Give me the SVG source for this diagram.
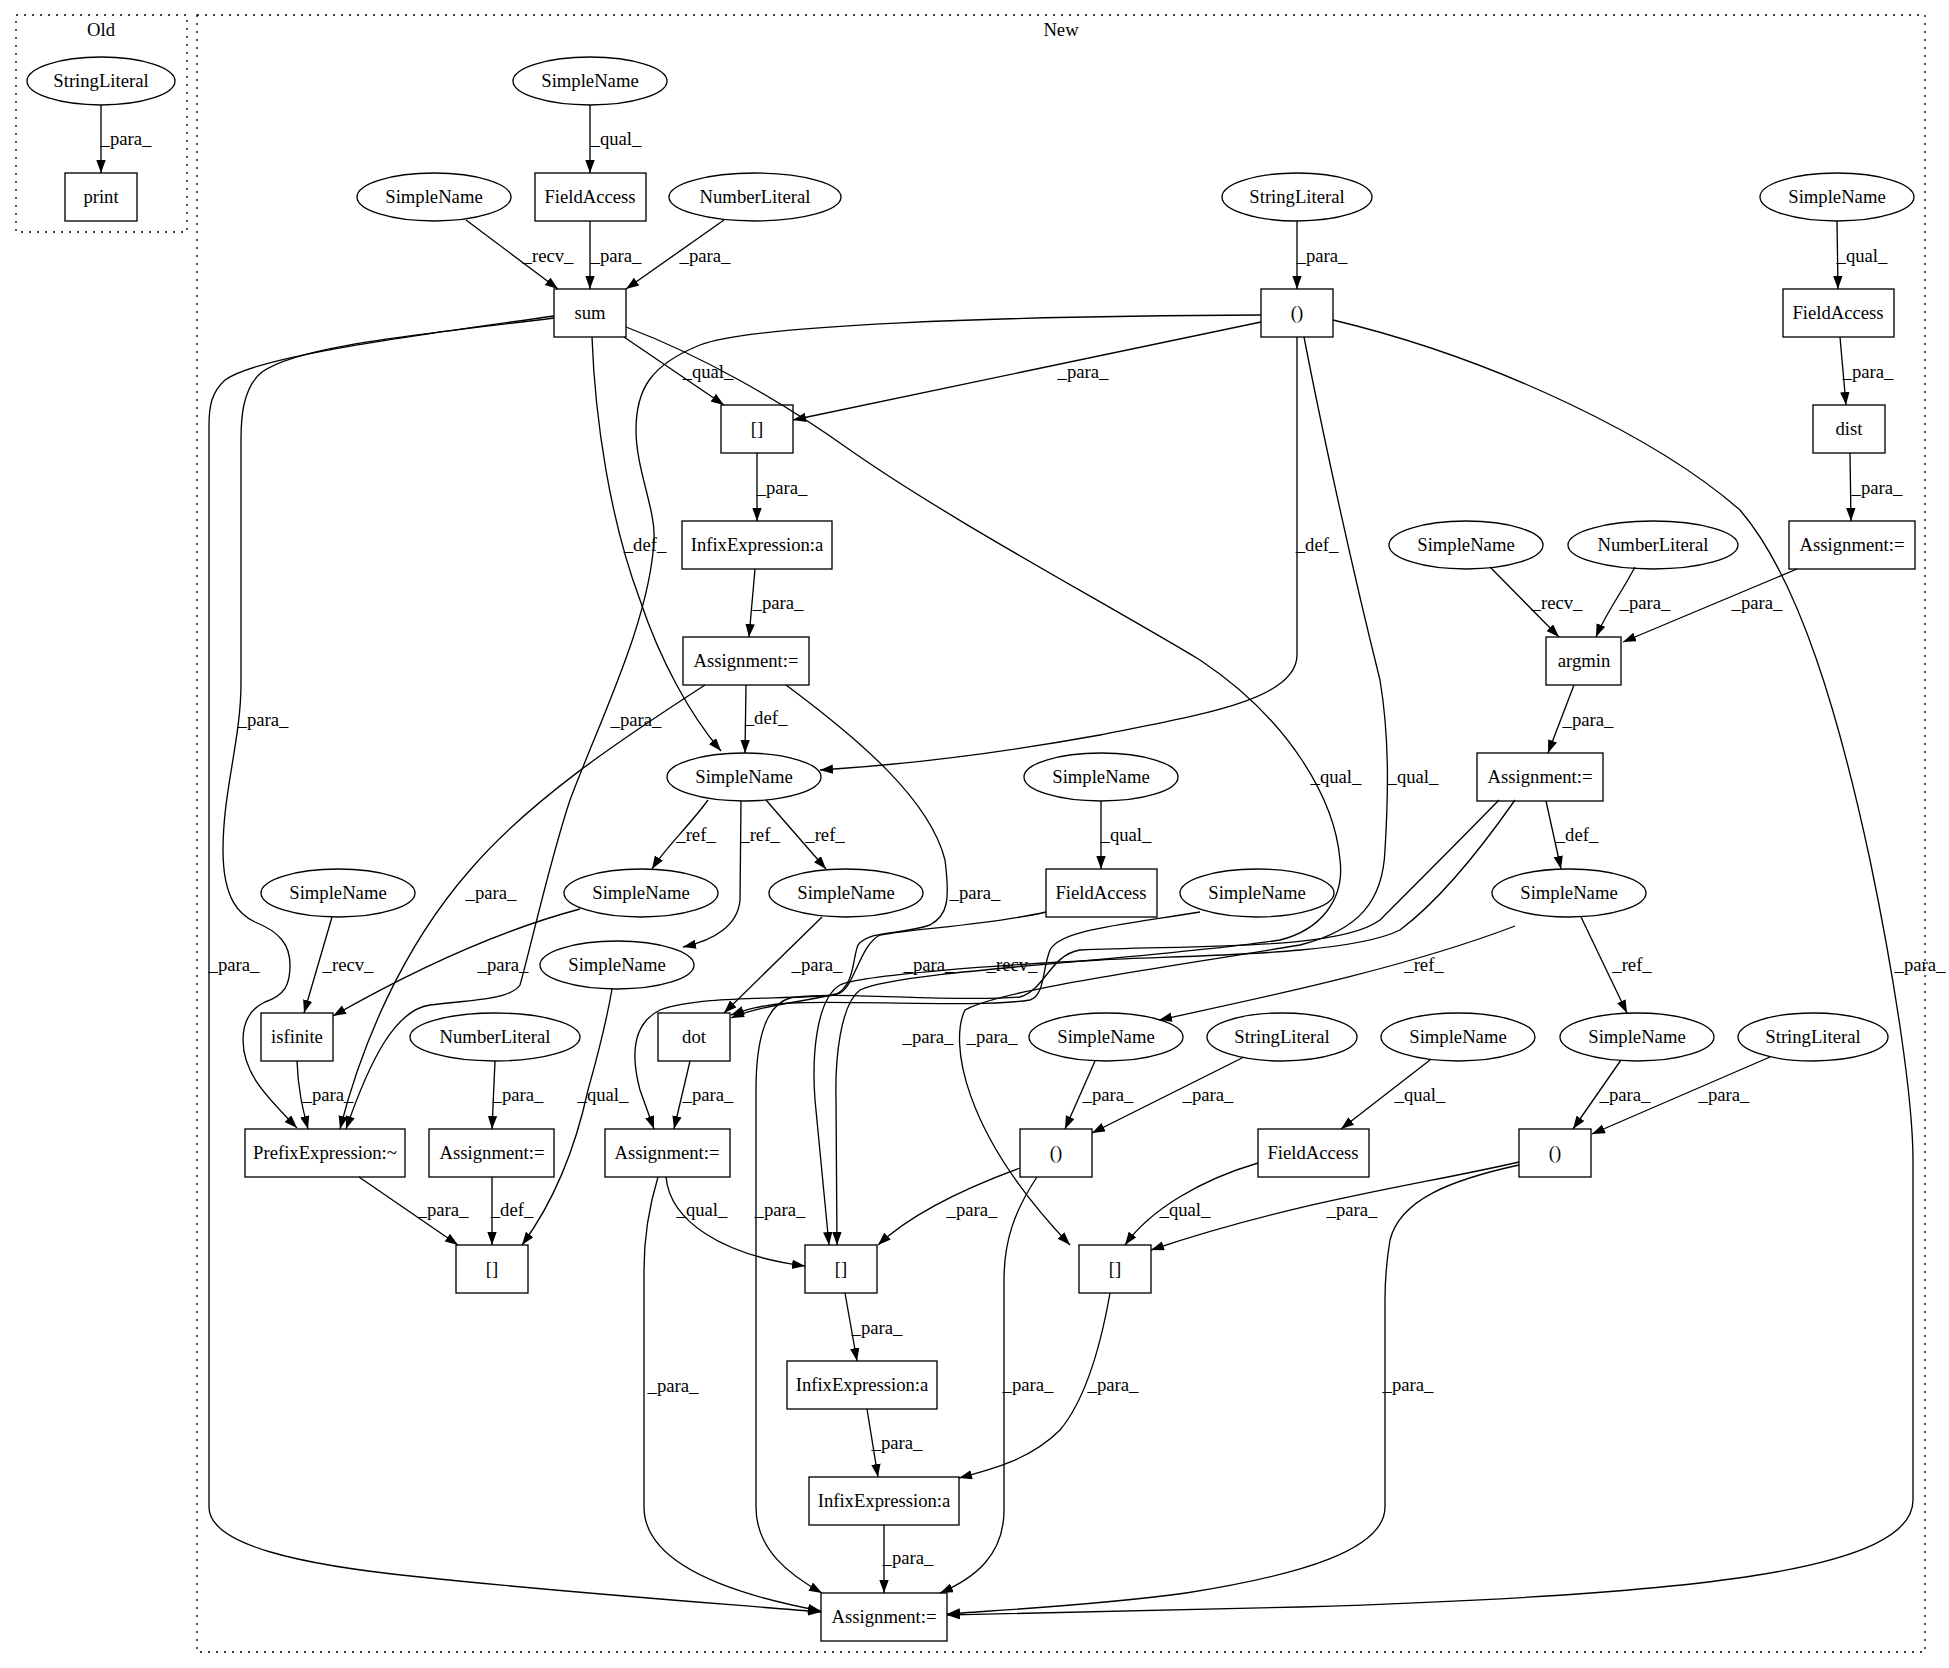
<svg xmlns="http://www.w3.org/2000/svg" width="1949" height="1668" viewBox="0 0 1949 1668">
<style>
text{font-family:"Liberation Serif","Times New Roman",serif;font-size:18.67px;fill:#000;text-anchor:middle}
.n ellipse,.n rect{fill:none;stroke:#000;stroke-width:1.33}
.e path{fill:none;stroke:#000;stroke-width:1.33;marker-end:url(#ah)}
.cl{fill:none;stroke:#000;stroke-width:1.33;stroke-dasharray:2,6}
</style>
<defs><marker id="ah" markerUnits="userSpaceOnUse" markerWidth="14" markerHeight="10" refX="13" refY="4.7" orient="auto"><path d="M0,0 L13,4.7 L0,9.4 Z" fill="#000"/></marker></defs>
<rect width="1949" height="1668" fill="#fff"/>
<g id="cluster_old"><rect class="cl" x="16" y="15" width="171" height="217"/><text x="101" y="36">Old</text></g>
<g id="cluster_new"><rect class="cl" x="197" y="15" width="1728" height="1637"/><text x="1061" y="36">New</text></g>
<g id="nodes" class="n">
<g id="o_str"><ellipse cx="101" cy="81" rx="74" ry="24"/><text x="101" y="87">StringLiteral</text></g>
<g id="o_print"><rect x="65" y="173" width="72" height="48"/><text x="101" y="203">print</text></g>
<g id="sn1"><ellipse cx="590" cy="81" rx="77" ry="24"/><text x="590" y="87">SimpleName</text></g>
<g id="sn2"><ellipse cx="434" cy="197" rx="77" ry="24"/><text x="434" y="203">SimpleName</text></g>
<g id="fa1"><rect x="535" y="173" width="111" height="48"/><text x="590" y="203">FieldAccess</text></g>
<g id="num1"><ellipse cx="755" cy="197" rx="86" ry="24"/><text x="755" y="203">NumberLiteral</text></g>
<g id="str1"><ellipse cx="1297" cy="197" rx="75" ry="24"/><text x="1297" y="203">StringLiteral</text></g>
<g id="sn3"><ellipse cx="1837" cy="197" rx="77" ry="24"/><text x="1837" y="203">SimpleName</text></g>
<g id="sum"><rect x="554" y="289" width="72" height="48"/><text x="590" y="319">sum</text></g>
<g id="call1"><rect x="1261" y="289" width="72" height="48"/><text x="1297" y="319">()</text></g>
<g id="fa2"><rect x="1783" y="289" width="111" height="48"/><text x="1838" y="319">FieldAccess</text></g>
<g id="idx1"><rect x="721" y="405" width="72" height="48"/><text x="757" y="435">[]</text></g>
<g id="dist"><rect x="1813" y="405" width="72" height="48"/><text x="1849" y="435">dist</text></g>
<g id="infix1"><rect x="682" y="521" width="150" height="48"/><text x="757" y="551">InfixExpression:a</text></g>
<g id="sn4"><ellipse cx="1466" cy="545" rx="77" ry="24"/><text x="1466" y="551">SimpleName</text></g>
<g id="num2"><ellipse cx="1653" cy="545" rx="85" ry="24"/><text x="1653" y="551">NumberLiteral</text></g>
<g id="asg1"><rect x="1789" y="521" width="126" height="48"/><text x="1852" y="551">Assignment:=</text></g>
<g id="asg2"><rect x="683" y="637" width="126" height="48"/><text x="746" y="667">Assignment:=</text></g>
<g id="argmin"><rect x="1546" y="637" width="75" height="48"/><text x="1584" y="667">argmin</text></g>
<g id="sn5"><ellipse cx="744" cy="777" rx="77" ry="24"/><text x="744" y="783">SimpleName</text></g>
<g id="sn6"><ellipse cx="1101" cy="777" rx="77" ry="24"/><text x="1101" y="783">SimpleName</text></g>
<g id="asg3"><rect x="1477" y="753" width="126" height="48"/><text x="1540" y="783">Assignment:=</text></g>
<g id="sn7"><ellipse cx="338" cy="893" rx="77" ry="24"/><text x="338" y="899">SimpleName</text></g>
<g id="sn8"><ellipse cx="641" cy="893" rx="77" ry="24"/><text x="641" y="899">SimpleName</text></g>
<g id="sn9"><ellipse cx="846" cy="893" rx="77" ry="24"/><text x="846" y="899">SimpleName</text></g>
<g id="fa3"><rect x="1046" y="869" width="111" height="48"/><text x="1101" y="899">FieldAccess</text></g>
<g id="sn10"><ellipse cx="1257" cy="893" rx="77" ry="24"/><text x="1257" y="899">SimpleName</text></g>
<g id="sn11"><ellipse cx="1569" cy="893" rx="77" ry="24"/><text x="1569" y="899">SimpleName</text></g>
<g id="sn12"><ellipse cx="617" cy="965" rx="77" ry="24"/><text x="617" y="971">SimpleName</text></g>
<g id="isfinite"><rect x="261" y="1013" width="72" height="48"/><text x="297" y="1043">isfinite</text></g>
<g id="num3"><ellipse cx="495" cy="1037" rx="85" ry="24"/><text x="495" y="1043">NumberLiteral</text></g>
<g id="dot"><rect x="658" y="1013" width="72" height="48"/><text x="694" y="1043">dot</text></g>
<g id="sn13"><ellipse cx="1106" cy="1037" rx="77" ry="24"/><text x="1106" y="1043">SimpleName</text></g>
<g id="str2"><ellipse cx="1282" cy="1037" rx="75" ry="24"/><text x="1282" y="1043">StringLiteral</text></g>
<g id="sn14"><ellipse cx="1458" cy="1037" rx="77" ry="24"/><text x="1458" y="1043">SimpleName</text></g>
<g id="sn15"><ellipse cx="1637" cy="1037" rx="77" ry="24"/><text x="1637" y="1043">SimpleName</text></g>
<g id="str3"><ellipse cx="1813" cy="1037" rx="75" ry="24"/><text x="1813" y="1043">StringLiteral</text></g>
<g id="prefix"><rect x="245" y="1129" width="160" height="48"/><text x="325" y="1159">PrefixExpression:~</text></g>
<g id="asg4"><rect x="429" y="1129" width="125" height="48"/><text x="492" y="1159">Assignment:=</text></g>
<g id="asg5"><rect x="605" y="1129" width="125" height="48"/><text x="667" y="1159">Assignment:=</text></g>
<g id="call2"><rect x="1020" y="1129" width="72" height="48"/><text x="1056" y="1159">()</text></g>
<g id="fa4"><rect x="1258" y="1129" width="111" height="48"/><text x="1313" y="1159">FieldAccess</text></g>
<g id="call3"><rect x="1519" y="1129" width="72" height="48"/><text x="1555" y="1159">()</text></g>
<g id="idx2"><rect x="456" y="1245" width="72" height="48"/><text x="492" y="1275">[]</text></g>
<g id="idx3"><rect x="805" y="1245" width="72" height="48"/><text x="841" y="1275">[]</text></g>
<g id="idx4"><rect x="1079" y="1245" width="72" height="48"/><text x="1115" y="1275">[]</text></g>
<g id="infix2"><rect x="787" y="1361" width="150" height="48"/><text x="862" y="1391">InfixExpression:a</text></g>
<g id="infix3"><rect x="809" y="1477" width="150" height="48"/><text x="884" y="1507">InfixExpression:a</text></g>
<g id="asg6"><rect x="821" y="1593" width="126" height="48"/><text x="884" y="1623">Assignment:=</text></g>
</g>
<g id="edges" class="e">
<path d="M101,105 L101,173"/>
<path d="M590,105 L590,173"/>
<path d="M466,220 L558,289"/>
<path d="M590,221 L590,289"/>
<path d="M724,220 L626,289"/>
<path d="M1297,221 L1297,289"/>
<path d="M1837,221 L1838,289"/>
<path d="M1840,337 L1846,405"/>
<path d="M1850,453 L1851,521"/>
<path d="M624,337 L724,405"/>
<path d="M1261,322 L793,420"/>
<path d="M757,453 L757,521"/>
<path d="M755,569 L749,637"/>
<path d="M746,685 L745,753"/>
<path d="M592,337 C595,420 610,520 640,600 C660,660 690,715 721,751"/>
<path d="M1297,337 L1297,655 C1297,700 1200,715 1100,735 C1000,753 900,765 820,770"/>
<path d="M1490,567 L1559,637"/>
<path d="M1635,567 C1620,595 1605,615 1596,637"/>
<path d="M1797,569 L1623,642"/>
<path d="M1574,685 L1548,753"/>
<path d="M1546,801 L1561,869"/>
<path d="M708,800 C690,825 665,848 652,869"/>
<path d="M741,801 L740,900 C738,925 715,940 683,947"/>
<path d="M766,800 L826,869"/>
<path d="M1101,801 L1101,869"/>
<path d="M332,917 L304,1013"/>
<path d="M580,909 C520,925 440,955 333,1016"/>
<path d="M822,917 L724,1013"/>
<path d="M554,318 C420,335 300,345 262,372 C242,388 241,420 241,440 L241,683 C241,740 223,790 223,850 C223,900 240,915 255,922 C280,932 290,945 290,965 C290,985 285,995 265,1002 C248,1010 243,1025 243,1040 C243,1075 270,1100 297,1128"/>
<path d="M554,316 C420,335 260,355 225,380 C212,392 209,405 209,425 L209,1507 C209,1545 300,1565 420,1577 C560,1592 700,1602 821,1612"/>
<path d="M297,1061 C298,1090 303,1110 308,1129"/>
<path d="M705,685 C620,740 530,800 470,870 C400,950 360,1050 340,1129"/>
<path d="M1261,315 C1000,316 750,325 700,345 C650,365 636,390 636,430 C636,470 656,510 654,540 C650,620 600,720 570,800 C550,860 530,950 520,985 C510,1000 470,1000 430,1005 C395,1010 370,1060 346,1129"/>
<path d="M495,1061 L492,1129"/>
<path d="M690,1061 L674,1129"/>
<path d="M786,685 C860,740 930,800 945,860 C950,900 948,915 930,925 C900,935 870,930 858,945 C852,960 855,985 835,995 C780,1000 700,995 660,1010 C630,1025 632,1060 640,1090 L654,1129"/>
<path d="M359,1177 L458,1245"/>
<path d="M492,1177 L492,1245"/>
<path d="M612,989 C605,1030 595,1065 588,1090 C575,1150 555,1200 522,1245"/>
<path d="M666,1177 C670,1220 720,1255 805,1266"/>
<path d="M1020,1168 C960,1190 910,1215 878,1245"/>
<path d="M1037,1177 C1015,1210 1004,1240 1004,1280 L1004,1510 C1004,1555 975,1578 940,1593"/>
<path d="M1258,1163 C1200,1180 1150,1210 1125,1245"/>
<path d="M1519,1162 C1420,1185 1300,1200 1151,1250"/>
<path d="M1519,1165 C1450,1180 1400,1200 1390,1240 C1385,1270 1385,1290 1385,1300 L1385,1507 C1385,1550 1300,1575 1186,1593 C1100,1605 1000,1610 947,1614"/>
<path d="M1333,320 C1500,360 1660,440 1740,510 C1800,580 1840,720 1870,860 C1895,980 1913,1100 1913,1160 L1913,1500 C1913,1570 1700,1595 1300,1607 C1150,1611 1050,1613 947,1615"/>
<path d="M658,1177 C648,1210 644,1240 644,1270 L644,1507 C644,1560 720,1592 821,1611"/>
<path d="M845,1293 L857,1361"/>
<path d="M867,1409 L878,1477"/>
<path d="M1110,1293 C1100,1350 1085,1400 1060,1430 C1030,1460 990,1470 959,1478"/>
<path d="M884,1525 L884,1593"/>
<path d="M1515,926 C1400,970 1250,1000 1159,1020"/>
<path d="M1581,917 L1627,1013"/>
<path d="M1095,1061 L1065,1129"/>
<path d="M1244,1057 L1092,1133"/>
<path d="M1430,1060 L1341,1129"/>
<path d="M1621,1060 L1573,1129"/>
<path d="M1770,1057 L1592,1134"/>
<path d="M1200,912 C1120,925 1060,930 1050,950 C1042,970 1045,995 1030,1000 C980,1008 850,1000 790,1003 C760,1005 745,1010 731,1015"/>
<path d="M1046,912 C990,925 920,928 880,935 C860,945 855,985 840,993 C800,1003 760,1005 731,1018"/>
<path d="M1499,800 C1460,840 1420,880 1380,920 C1340,950 1200,945 1080,950 C1050,955 1045,990 1020,997 C950,1003 830,990 790,998 C765,1005 756,1040 756,1090 L756,1507 C756,1550 790,1575 822,1593"/>
<path d="M1515,800 C1480,850 1440,900 1400,930 C1350,955 1200,955 1100,960 C1000,965 860,975 840,985 C815,1000 812,1060 815,1100 L829,1245"/>
<path d="M626,327 C700,355 780,400 850,450 C950,520 1100,600 1200,660 C1290,720 1335,800 1340,860 C1345,900 1320,930 1280,940 C1150,960 900,970 860,990 C840,1005 835,1060 836,1100 L837,1245"/>
<path d="M1304,337 C1320,420 1350,560 1380,680 C1390,740 1388,800 1385,850 C1383,900 1360,930 1300,945 C1150,970 1000,990 965,1010 C950,1040 960,1130 1070,1245"/>
</g>
<g id="labels">
<text x="126" y="145">_para_</text>
<text x="616" y="145">_qual_</text>
<text x="548" y="262">_recv_</text>
<text x="616" y="262">_para_</text>
<text x="705" y="262">_para_</text>
<text x="1322" y="262">_para_</text>
<text x="1862" y="262">_qual_</text>
<text x="1868" y="378">_para_</text>
<text x="1877" y="494">_para_</text>
<text x="708" y="378">_qual_</text>
<text x="1083" y="378">_para_</text>
<text x="782" y="494">_para_</text>
<text x="778" y="609">_para_</text>
<text x="766" y="724">_def_</text>
<text x="645" y="551">_def_</text>
<text x="1317" y="551">_def_</text>
<text x="1557" y="609">_recv_</text>
<text x="1645" y="609">_para_</text>
<text x="1757" y="609">_para_</text>
<text x="1588" y="726">_para_</text>
<text x="1577" y="841">_def_</text>
<text x="696" y="841">_ref_</text>
<text x="760" y="841">_ref_</text>
<text x="825" y="841">_ref_</text>
<text x="1126" y="841">_qual_</text>
<text x="1336" y="783">_qual_</text>
<text x="1413" y="783">_qual_</text>
<text x="263" y="726">_para_</text>
<text x="234" y="971">_para_</text>
<text x="636" y="726">_para_</text>
<text x="491" y="899">_para_</text>
<text x="503" y="971">_para_</text>
<text x="348" y="971">_recv_</text>
<text x="328" y="1101">_para_</text>
<text x="817" y="971">_para_</text>
<text x="975" y="899">_para_</text>
<text x="929" y="971">_para_</text>
<text x="1012" y="971">_recv_</text>
<text x="928" y="1043">_para_</text>
<text x="992" y="1043">_para_</text>
<text x="1424" y="971">_ref_</text>
<text x="1632" y="971">_ref_</text>
<text x="518" y="1101">_para_</text>
<text x="708" y="1101">_para_</text>
<text x="603" y="1101">_qual_</text>
<text x="1108" y="1101">_para_</text>
<text x="1208" y="1101">_para_</text>
<text x="1420" y="1101">_qual_</text>
<text x="1625" y="1101">_para_</text>
<text x="1724" y="1101">_para_</text>
<text x="443" y="1216">_para_</text>
<text x="512" y="1216">_def_</text>
<text x="702" y="1216">_qual_</text>
<text x="780" y="1216">_para_</text>
<text x="972" y="1216">_para_</text>
<text x="1185" y="1216">_qual_</text>
<text x="1352" y="1216">_para_</text>
<text x="877" y="1334">_para_</text>
<text x="673" y="1392">_para_</text>
<text x="1028" y="1391">_para_</text>
<text x="1113" y="1391">_para_</text>
<text x="1408" y="1391">_para_</text>
<text x="897" y="1449">_para_</text>
<text x="908" y="1564">_para_</text>
<text x="1920" y="971">_para_</text>
</g>
</svg>
